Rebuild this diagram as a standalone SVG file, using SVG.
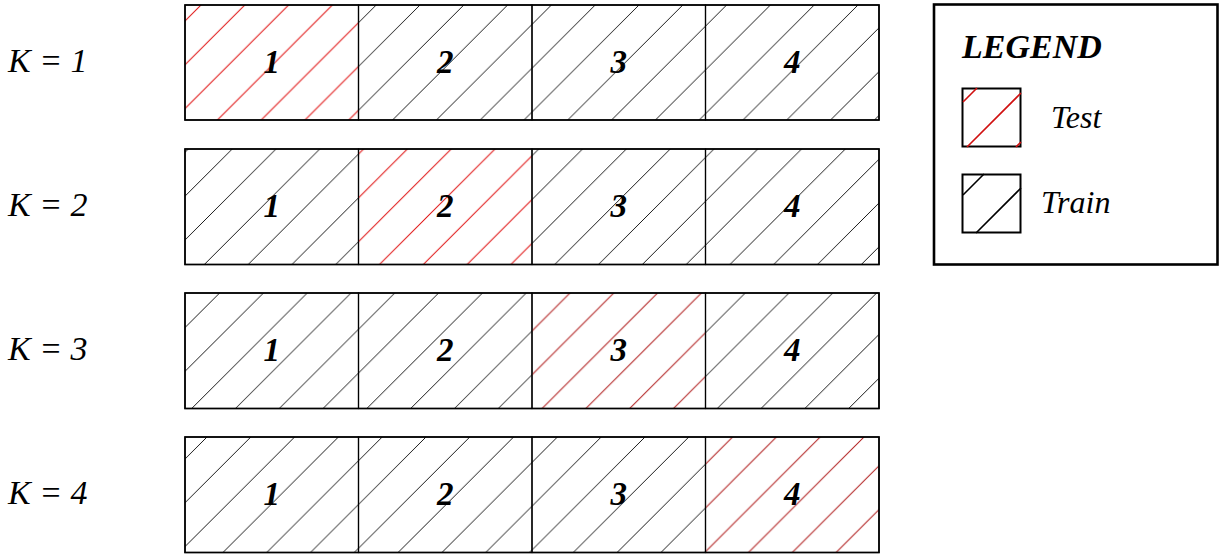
<svg xmlns="http://www.w3.org/2000/svg" width="1220" height="554" viewBox="0 0 1220 554">
<style>
.k{font-family:"Liberation Serif","DejaVu Serif",serif;font-style:italic;font-size:34px;fill:#000}
.n{font-family:"Liberation Serif","DejaVu Serif",serif;font-style:italic;font-weight:bold;font-size:33px;fill:#000;text-anchor:middle}
.lg{font-family:"Liberation Serif","DejaVu Serif",serif;font-style:italic;font-weight:bold;font-size:34px;fill:#000}
.lt{font-family:"Liberation Serif","DejaVu Serif",serif;font-style:italic;font-size:32px;fill:#000}
.cell{stroke:#000;stroke-width:1.2}
.frame{fill:none;stroke:#000;stroke-width:1.6}
.tr{fill:url(#hb)}
.te{fill:url(#hr)}
.te2{fill:url(#hd)}
</style>
<defs>
<pattern id="hb" patternUnits="userSpaceOnUse" x="206" y="0" width="43.8" height="43.8">
<path d="M0,43.8 L43.8,0 M-4,4 L4,-4 M39.8,47.8 L47.8,39.8" stroke="#000" stroke-width="0.9" fill="none"/>
</pattern>
<pattern id="hr" patternUnits="userSpaceOnUse" x="206" y="0" width="43.8" height="43.8">
<path d="M0,43.8 L43.8,0 M-4,4 L4,-4 M39.8,47.8 L47.8,39.8" stroke="#e01010" stroke-width="1" fill="none"/>
</pattern>
<pattern id="hd" patternUnits="userSpaceOnUse" x="206" y="0" width="43.8" height="43.8">
<path d="M0,43.8 L43.8,0 M-4,4 L4,-4 M39.8,47.8 L47.8,39.8" stroke="#b01c1c" stroke-width="1" fill="none"/>
</pattern>
</defs>
<rect width="1220" height="554" fill="#fff"/>

<g id="label-k1"><text class="k" x="8" y="72">K = 1</text></g>
<g id="row1">
<g id="r1c1"><rect class="cell te" x="185" y="5" width="173.5" height="115"/><text class="n" x="271.75" y="73">1</text></g>
<g id="r1c2"><rect class="cell tr" x="358.5" y="5" width="173.5" height="115"/><text class="n" x="445.25" y="73">2</text></g>
<g id="r1c3"><rect class="cell tr" x="532" y="5" width="173.5" height="115"/><text class="n" x="618.75" y="73">3</text></g>
<g id="r1c4"><rect class="cell tr" x="705.5" y="5" width="173.5" height="115"/><text class="n" x="792.25" y="73">4</text></g>
<rect class="frame" x="185" y="5" width="694" height="115"/>
</g>

<g id="label-k2"><text class="k" x="8" y="216">K = 2</text></g>
<g id="row2">
<g id="r2c1"><rect class="cell tr" x="185" y="149" width="173.5" height="115.5"/><text class="n" x="271.75" y="217">1</text></g>
<g id="r2c2"><rect class="cell te" x="358.5" y="149" width="173.5" height="115.5"/><text class="n" x="445.25" y="217">2</text></g>
<g id="r2c3"><rect class="cell tr" x="532" y="149" width="173.5" height="115.5"/><text class="n" x="618.75" y="217">3</text></g>
<g id="r2c4"><rect class="cell tr" x="705.5" y="149" width="173.5" height="115.5"/><text class="n" x="792.25" y="217">4</text></g>
<rect class="frame" x="185" y="149" width="694" height="115.5"/>
</g>

<g id="label-k3"><text class="k" x="8" y="360">K = 3</text></g>
<g id="row3">
<g id="r3c1"><rect class="cell tr" x="185" y="293" width="173.5" height="115.5"/><text class="n" x="271.75" y="361">1</text></g>
<g id="r3c2"><rect class="cell tr" x="358.5" y="293" width="173.5" height="115.5"/><text class="n" x="445.25" y="361">2</text></g>
<g id="r3c3"><rect class="cell te2" x="532" y="293" width="173.5" height="115.5"/><text class="n" x="618.75" y="361">3</text></g>
<g id="r3c4"><rect class="cell tr" x="705.5" y="293" width="173.5" height="115.5"/><text class="n" x="792.25" y="361">4</text></g>
<rect class="frame" x="185" y="293" width="694" height="115.5"/>
</g>

<g id="label-k4"><text class="k" x="8" y="504">K = 4</text></g>
<g id="row4">
<g id="r4c1"><rect class="cell tr" x="185" y="437" width="173.5" height="115.5"/><text class="n" x="271.75" y="505">1</text></g>
<g id="r4c2"><rect class="cell tr" x="358.5" y="437" width="173.5" height="115.5"/><text class="n" x="445.25" y="505">2</text></g>
<g id="r4c3"><rect class="cell tr" x="532" y="437" width="173.5" height="115.5"/><text class="n" x="618.75" y="505">3</text></g>
<g id="r4c4"><rect class="cell te2" x="705.5" y="437" width="173.5" height="115.5"/><text class="n" x="792.25" y="505">4</text></g>
<rect class="frame" x="185" y="437" width="694" height="115.5"/>
</g>

<g id="legend">
<rect x="934" y="4.5" width="283.5" height="260" fill="#fff" stroke="#000" stroke-width="2.6"/>
<text class="lg" x="962" y="58">LEGEND</text>
<g id="legend-test">
<rect x="962.5" y="88.5" width="58" height="58" fill="#fff" stroke="#000" stroke-width="2"/>
<path d="M963,102 L977,88 M967,147 L1021,93 M1016,147 L1021,142" stroke="#d01010" stroke-width="1.6" fill="none"/>
<text class="lt" x="1051" y="128">Test</text>
</g>
<g id="legend-train">
<rect x="962.5" y="174.5" width="58" height="58" fill="#fff" stroke="#000" stroke-width="2"/>
<path d="M963,195 L984,174 M976,233 L1021,188" stroke="#000" stroke-width="1.6" fill="none"/>
<text class="lt" x="1041" y="213">Train</text>
</g>
</g>
</svg>
